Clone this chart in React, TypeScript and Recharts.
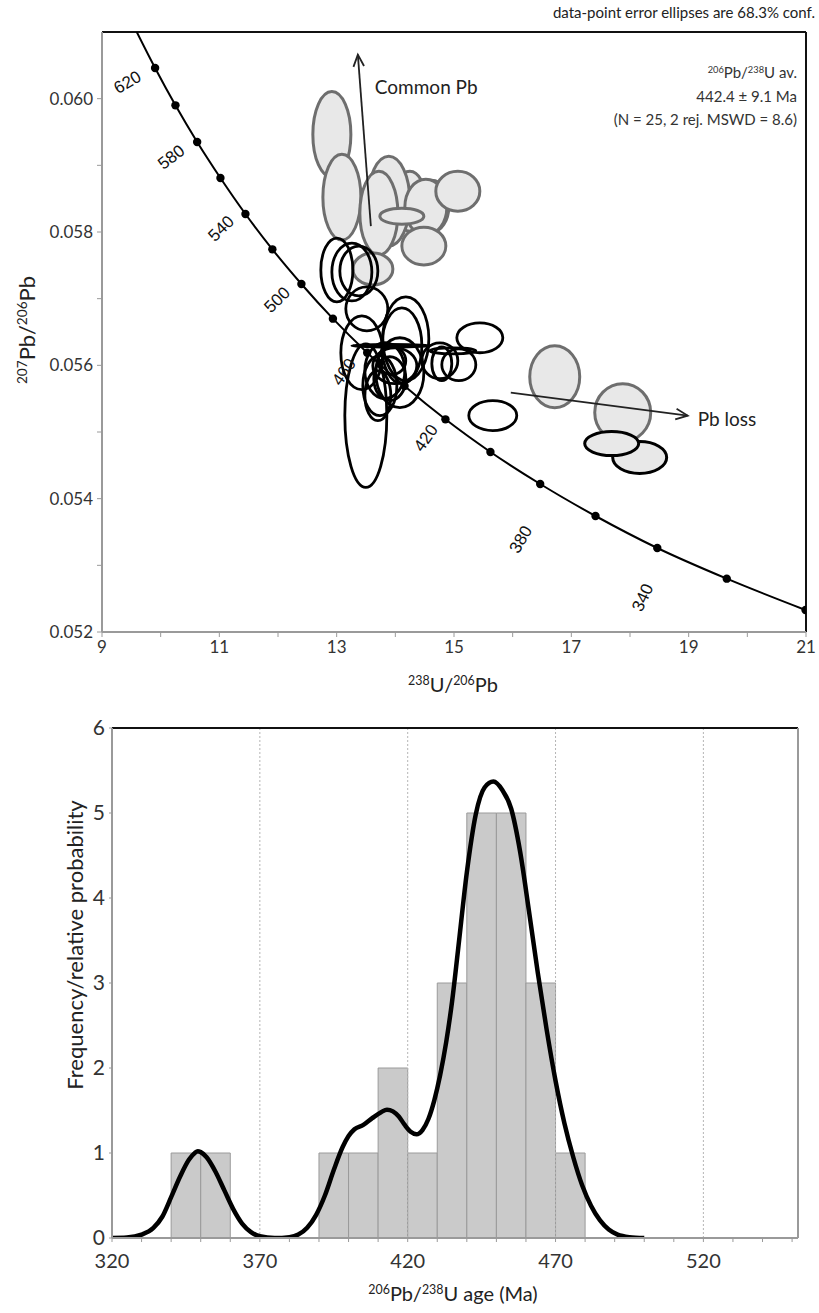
import React from 'react';
import {
  ComposedChart, XAxis, YAxis, Line, Scatter,
  ReferenceArea, ReferenceLine, ReferenceDot,
} from 'recharts';

const FONT = 'Lato, "Open Sans", sans-serif';

// concordia curve (age in Ma -> 238U/206Pb, 207Pb/206Pb)
const concAge = [640, 620, 600, 580, 560, 540, 520, 500, 480, 460, 440, 420, 400, 380, 360, 340, 320, 300];
const concX = [9.581, 9.905, 10.252, 10.622, 11.019, 11.445, 11.904, 12.399, 12.936, 13.52, 14.157, 14.854, 15.621, 16.469, 17.412, 18.465, 19.649, 20.992];
const concY = [0.06102, 0.06046, 0.0599, 0.05935, 0.05881, 0.05827, 0.05774, 0.05722, 0.0567, 0.05619, 0.05569, 0.05519, 0.0547, 0.05422, 0.05374, 0.05326, 0.0528, 0.05233];

const concLabel = ['620', '580', '540', '500', '460', '420', '380', '340'];
const concLabelX = [9.443, 10.193, 11.044, 11.998, 13.14, 14.537, 16.155, 18.233];
const concLabelY = [0.06023, 0.05911, 0.05804, 0.05697, 0.05589, 0.0549, 0.05338, 0.05251];
const concLabelAngle = [-30, -38, -45, -45, -55, -55, -60, -65];

// grey (common-Pb / rejected) ellipses: centre and half-axes
const greyX = [12.918, 13.089, 14.247, 13.889, 14.622, 14.52, 15.065, 13.719, 14.111, 14.486, 13.617, 16.717, 17.876];
const greyY = [0.059464, 0.058522, 0.058462, 0.058462, 0.058388, 0.058373, 0.058612, 0.058283, 0.058238, 0.057789, 0.057445, 0.055829, 0.055291];
const greySx = [0.324, 0.324, 0.273, 0.358, 0.29, 0.358, 0.375, 0.324, 0.375, 0.375, 0.341, 0.426, 0.477];
const greySy = [0.000643, 0.000643, 0.000449, 0.000673, 0.000389, 0.000419, 0.000299, 0.000628, 0.00012, 0.000284, 0.000239, 0.000464, 0.000434];

// black ellipses (concordant analyses)
const blackX = [13.003, 13.259, 13.378, 13.514, 13.429, 13.497, 14.179, 14.111, 13.923, 13.821, 13.736, 13.906, 13.991, 13.702, 13.94, 14.077, 14.792, 15.082, 14.758, 14.98, 15.44, 15.661];
const blackY = [0.05743, 0.0574, 0.057415, 0.056847, 0.056188, 0.055246, 0.056398, 0.056293, 0.056293, 0.05592, 0.055695, 0.0558, 0.055994, 0.055545, 0.056069, 0.05589, 0.056024, 0.056009, 0.056069, 0.056218, 0.056413, 0.055246];
const blackSx = [0.273, 0.341, 0.324, 0.358, 0.358, 0.358, 0.392, 0.341, 0.664, 0.341, 0.29, 0.273, 0.375, 0.221, 0.238, 0.409, 0.17, 0.29, 0.307, 0.392, 0.392, 0.409];
const blackSy = [0.000479, 0.000434, 0.000374, 0.000329, 0.000553, 0.001077, 0.000628, 0.000568, 0.00002, 0.000419, 0.000449, 0.000329, 0.000269, 0.000374, 0.000209, 0.000524, 0.000254, 0.000239, 0.000269, 0.000045, 0.000224, 0.000224];

// grey-filled ellipses with black outline (Pb loss)
const lossX = [18.165, 17.688];
const lossY = [0.054618, 0.054827];
const lossSx = [0.46, 0.46];
const lossSy = [0.000239, 0.00018];

// trend arrows
const arrowName = ['Common Pb', 'Pb loss'];
const arrowX1 = [13.583, 15.968];
const arrowY1 = [0.058088, 0.05559];
const arrowX2 = [13.361, 18.983];
const arrowY2 = [0.060661, 0.055246];
const arrowTextX = [13.651, 19.153];
const arrowTextY = [0.060138, 0.055156];

const xTicksTop = [9, 10, 11, 12, 13, 14, 15, 16, 17, 18, 19, 20, 21];
const yTicksTop = [0.052, 0.053, 0.054, 0.055, 0.056, 0.057, 0.058, 0.059, 0.06];

// histogram (10 Ma bins) and probability density curve
const binStart = [340, 350, 390, 400, 410, 420, 430, 440, 450, 460, 470];
const binCount = [1, 1, 1, 1, 2, 1, 3, 5, 5, 3, 1];

const pdfAge = [320, 325, 330, 334, 337, 340, 343, 346, 348, 349, 350, 352, 355, 358, 361, 364, 367, 370, 375, 380, 383, 386, 389, 392, 395, 398, 400, 402, 405, 408, 411, 413, 415, 417, 419, 421, 423, 425, 427, 429, 431, 433, 435, 437, 440, 443, 446, 449, 452, 455, 458, 461, 464, 467, 470, 473, 476, 479, 482, 485, 488, 491, 495, 500];
const pdfVal = [0, 0.005, 0.04, 0.12, 0.25, 0.48, 0.72, 0.92, 1.0, 1.02, 1.01, 0.95, 0.78, 0.56, 0.34, 0.17, 0.07, 0.02, 0, 0.01, 0.04, 0.12, 0.27, 0.5, 0.8, 1.07, 1.2, 1.28, 1.33, 1.41, 1.48, 1.51, 1.49, 1.43, 1.33, 1.25, 1.22, 1.27, 1.4, 1.62, 1.92, 2.3, 2.78, 3.38, 4.3, 4.98, 5.3, 5.37, 5.27, 5.05, 4.55, 3.85, 3.12, 2.45, 1.85, 1.35, 0.95, 0.62, 0.38, 0.21, 0.1, 0.04, 0.01, 0];

const ageTicks = [320, 330, 340, 350, 360, 370, 380, 390, 400, 410, 420, 430, 440, 450, 460, 470, 480, 490, 500, 510, 520, 530, 540, 550];
const ageGrid = [370, 420, 470, 520];
const freqTicks = [0, 1, 2, 3, 4, 5, 6];

const concLine = concAge.map((a, i) => ({ age: a, x: concX[i], y: concY[i] }));
const concDots = concLine.filter((d) => d.age <= 620);
const pdfData = pdfAge.map((a, i) => ({ age: a, p: pdfVal[i] }));

const ellipse = (fill: string, stroke: string, sw: number) => (p: any) => (
  <ellipse
    cx={p.x + p.width / 2}
    cy={p.y + p.height / 2}
    rx={Math.abs(p.width) / 2}
    ry={Math.abs(p.height) / 2}
    fill={fill}
    stroke={stroke}
    strokeWidth={sw}
  />
);

const arrow = (p: any) => {
  const { x1, y1, x2, y2 } = p;
  const a = Math.atan2(y2 - y1, x2 - x1);
  const L = 13;
  const w = 0.42;
  return (
    <g>
      <line x1={x1} y1={y1} x2={x2} y2={y2} stroke="#222" strokeWidth={1.8} />
      <polyline
        points={`${x2 - L * Math.cos(a - w)},${y2 - L * Math.sin(a - w)} ${x2},${y2} ${x2 - L * Math.cos(a + w)},${y2 - L * Math.sin(a + w)}`}
        fill="none"
        stroke="#222"
        strokeWidth={1.8}
      />
    </g>
  );
};

const sup = { fontSize: '0.62em', verticalAlign: '0.55em' } as const;

function Concordia() {
  return (
    <ComposedChart width={819} height={710} margin={{ top: 32, right: 13, bottom: 48, left: 42 }}>
      <XAxis
        type="number" dataKey="x" domain={[9, 21]} ticks={xTicksTop} allowDataOverflow
        tickFormatter={(v: number) => (v % 2 === 1 ? String(v) : '')}
        axisLine={{ stroke: '#9a9a9a', strokeWidth: 2 }} tickLine={{ stroke: '#9a9a9a' }}
        tickSize={5} tickMargin={4} height={30}
        tick={{ fontSize: 17, fill: '#333', fontFamily: FONT }}
      />
      <YAxis
        type="number" dataKey="y" domain={[0.052, 0.061]} ticks={yTicksTop} allowDataOverflow
        tickFormatter={(v: number) => (Math.round(v * 1000) % 2 === 0 ? v.toFixed(3) : '')}
        axisLine={{ stroke: '#9a9a9a', strokeWidth: 2 }} tickLine={{ stroke: '#9a9a9a' }}
        tickSize={5} tickMargin={4} width={60}
        tick={{ fontSize: 17, fill: '#333', fontFamily: FONT }}
      />
      <ReferenceLine y={0.061} stroke="#111" strokeWidth={2} />
      <ReferenceLine x={21} stroke="#111" strokeWidth={2} />

      {concLabel.map((t, i) => (
        <ReferenceDot
          key={'cl' + t} x={concLabelX[i]} y={concLabelY[i]} r={0}
          shape={(p: any) => (
            <text
              x={p.cx} y={p.cy} fontSize={17} fill="#111" fontFamily='"Liberation Sans", Arial, sans-serif'
              textAnchor="middle" dominantBaseline="middle"
              transform={`rotate(${concLabelAngle[i]} ${p.cx} ${p.cy})`}
            >
              {t}
            </text>
          )}
        />
      ))}

      {greyX.map((x, i) => (
        <ReferenceArea
          key={'g' + i} x1={x - greySx[i]} x2={x + greySx[i]} y1={greyY[i] - greySy[i]} y2={greyY[i] + greySy[i]}
          shape={ellipse('#e8e8e8', '#6e6e6e', 3)}
        />
      ))}
      {lossX.map((x, i) => (
        <ReferenceArea
          key={'l' + i} x1={x - lossSx[i]} x2={x + lossSx[i]} y1={lossY[i] - lossSy[i]} y2={lossY[i] + lossSy[i]}
          shape={ellipse('#e8e8e8', '#000', 3)}
        />
      ))}
      {blackX.map((x, i) => (
        <ReferenceArea
          key={'b' + i} x1={x - blackSx[i]} x2={x + blackSx[i]} y1={blackY[i] - blackSy[i]} y2={blackY[i] + blackSy[i]}
          shape={ellipse('none', '#000', 2.8)}
        />
      ))}

      <Line
        data={concLine} dataKey="y" type="monotone" stroke="#000" strokeWidth={2}
        dot={false} activeDot={false} isAnimationActive={false}
      />
      <Scatter
        data={concDots} dataKey="y" isAnimationActive={false}
        shape={(p: any) => <circle cx={p.cx} cy={p.cy} r={4.2} fill="#000" />}
      />

      {arrowName.map((n, i) => (
        <ReferenceLine
          key={'a' + n}
          segment={[{ x: arrowX1[i], y: arrowY1[i] }, { x: arrowX2[i], y: arrowY2[i] }]}
          shape={arrow}
        />
      ))}
      {arrowName.map((n, i) => (
        <ReferenceDot
          key={'at' + n} x={arrowTextX[i]} y={arrowTextY[i]} r={0}
          shape={(p: any) => (
            <text x={p.cx} y={p.cy} fontSize={19} fill="#222" fontFamily={FONT} dominantBaseline="middle">
              {n}
            </text>
          )}
        />
      ))}
    </ComposedChart>
  );
}

function AgeHistogram() {
  return (
    <ComposedChart width={819} height={603} data={pdfData} margin={{ top: 18, right: 21, bottom: 45, left: 62 }}>
      <XAxis
        type="number" dataKey="age" domain={[320, 552]} ticks={ageTicks} allowDataOverflow
        tickFormatter={(v: number) => ((v - 320) % 50 === 0 ? String(v) : '')}
        axisLine={{ stroke: '#9a9a9a', strokeWidth: 2 }} tickLine={{ stroke: '#9a9a9a' }}
        tickSize={4} tickMargin={12} height={30}
        tick={{ fontSize: 20, fill: '#333', fontFamily: FONT }}
      />
      <YAxis
        type="number" domain={[0, 6]} ticks={freqTicks} allowDataOverflow
        axisLine={{ stroke: '#9a9a9a', strokeWidth: 2 }} tickLine={{ stroke: '#9a9a9a' }}
        tickSize={3} tickMargin={4} width={50}
        tick={{ fontSize: 21, fill: '#333', fontFamily: FONT }}
      />
      {ageGrid.map((g) => (
        <ReferenceLine key={'gr' + g} x={g} stroke="#b5b5b5" strokeDasharray="2 2" strokeWidth={1} />
      ))}
      <ReferenceLine y={6} stroke="#111" strokeWidth={2} />
      <ReferenceLine x={552} stroke="#9a9a9a" strokeWidth={2} />
      {binStart.map((b, i) => (
        <ReferenceArea
          key={'bin' + b} x1={b} x2={b + 10} y1={0} y2={binCount[i]}
          fill="#cacaca" fillOpacity={1} stroke="#9a9a9a" strokeWidth={1}
        />
      ))}
      <Line
        dataKey="p" type="monotone" stroke="#000" strokeWidth={4.5}
        dot={false} activeDot={false} isAnimationActive={false}
      />
    </ComposedChart>
  );
}

export default function App() {
  return (
    <div style={{ position: 'absolute', left: 0, top: 0, width: 819, height: 1313, background: '#fff', fontFamily: FONT, color: '#222' }}>
      <div style={{ position: 'absolute', left: 0, top: 0 }}>
        <Concordia />
      </div>
      <div style={{ position: 'absolute', left: 0, top: 710 }}>
        <AgeHistogram />
      </div>

      <div style={{ position: 'absolute', right: 4, top: 3, fontSize: 15, whiteSpace: 'nowrap' }}>
        data-point error ellipses are 68.3% conf.
      </div>
      <div style={{ position: 'absolute', right: 22, top: 58, fontSize: 15, lineHeight: '23.5px', textAlign: 'right', whiteSpace: 'nowrap', color: '#333' }}>
        <div><span style={sup}>206</span>Pb/<span style={sup}>238</span>U av.</div>
        <div>442.4 ± 9.1 Ma</div>
        <div>(N = 25, 2 rej. MSWD = 8.6)</div>
      </div>

      <div style={{ position: 'absolute', left: 26, top: 330, transform: 'translate(-50%, -50%) rotate(-90deg)', fontSize: 22, whiteSpace: 'nowrap', color: '#222' }}>
        <span style={sup}>207</span>Pb/<span style={sup}>206</span>Pb
      </div>
      <div style={{ position: 'absolute', left: 453, top: 684, transform: 'translate(-50%, -50%)', fontSize: 20, whiteSpace: 'nowrap', color: '#222' }}>
        <span style={sup}>238</span>U/<span style={sup}>206</span>Pb
      </div>

      <div style={{ position: 'absolute', left: 74, top: 945, transform: 'translate(-50%, -50%) rotate(-90deg)', fontSize: 22, whiteSpace: 'nowrap', color: '#222' }}>
        Frequency/relative probability
      </div>
      <div style={{ position: 'absolute', left: 453, top: 1293, transform: 'translate(-50%, -50%)', fontSize: 20, whiteSpace: 'nowrap', color: '#222' }}>
        <span style={sup}>206</span>Pb/<span style={sup}>238</span>U age (Ma)
      </div>
    </div>
  );
}
